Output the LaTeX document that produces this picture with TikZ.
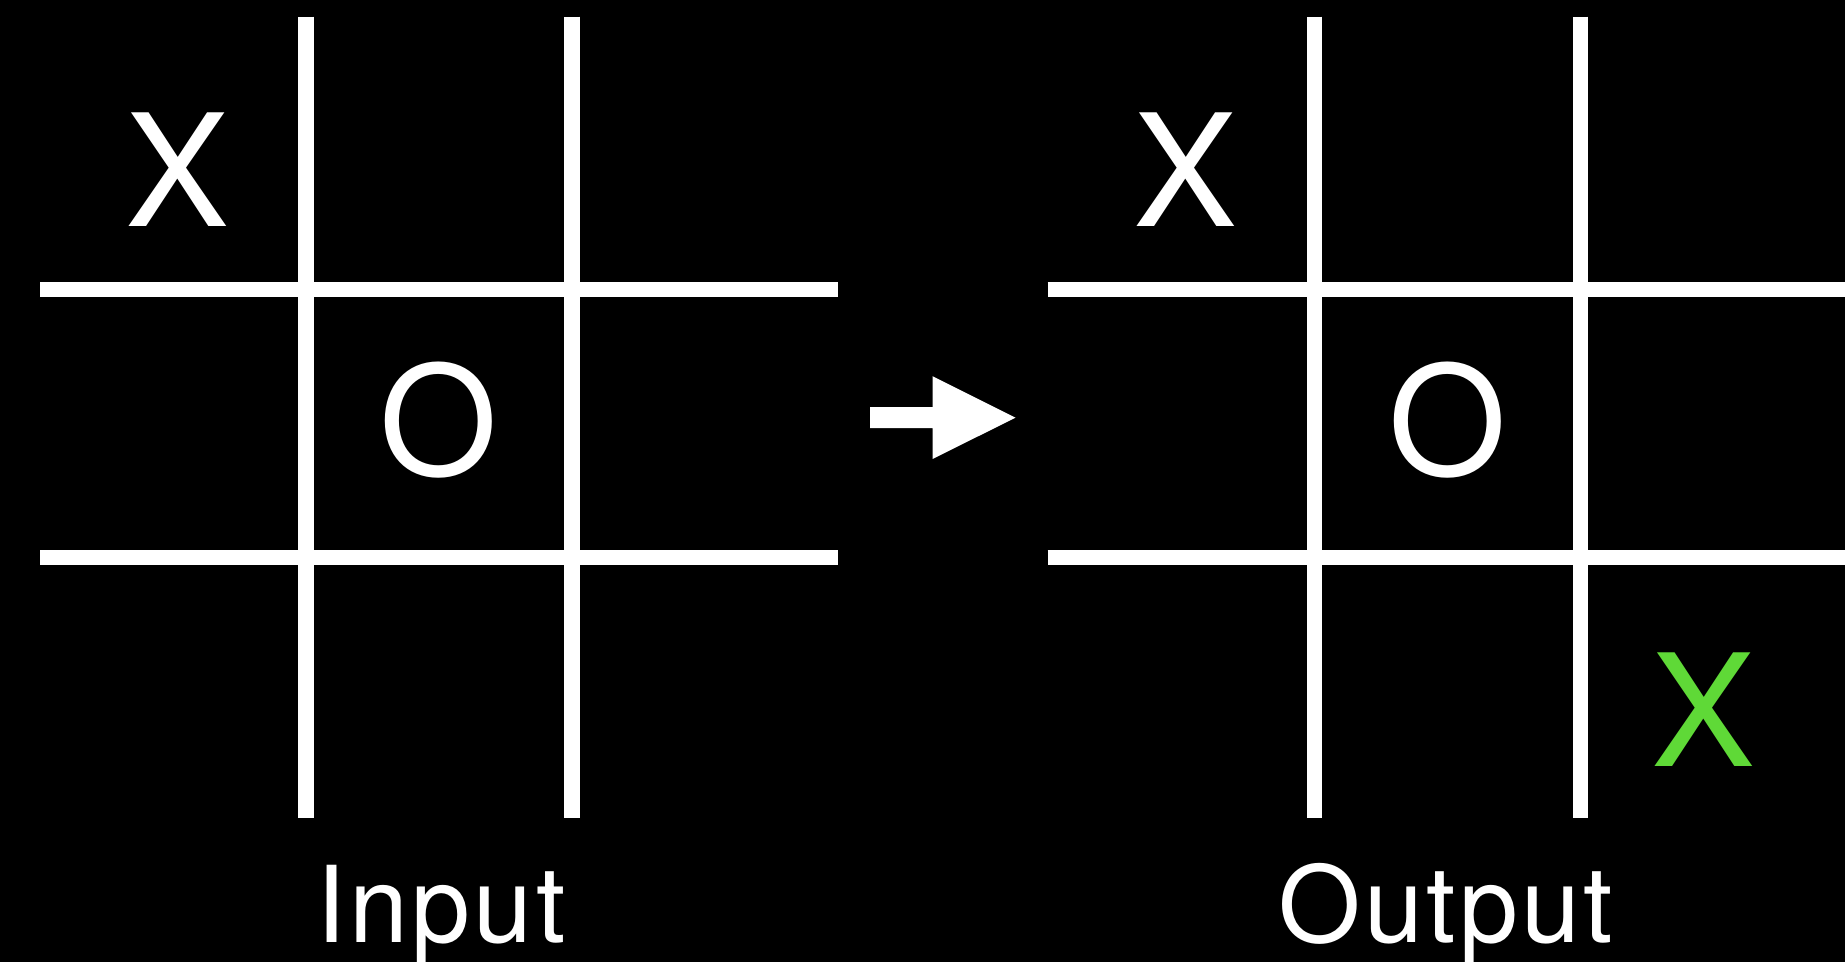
\documentclass[tikz,border=0pt]{standalone}
\usepackage{fontspec}
\setmainfont{TeX Gyre Heros}
\newfontfamily\capfont[LetterSpace=3]{TeX Gyre Heros}
\definecolor{movegreen}{RGB}{95,217,55}
\begin{document}
\begin{tikzpicture}[x=1pt,y=-1pt,
  gridline/.style={white,line width=15.5pt},
  piece/.style={text=white,inner sep=0pt,font=\fontsize{156}{160}\selectfont},
  opiece/.style={piece,font=\fontsize{152}{160}\selectfont},
  newpiece/.style={piece,text=movegreen},
  caption/.style={text=white,inner sep=0pt,anchor=base,font=\capfont\fontsize{106}{110}\selectfont}]
\fill[black] (0,0) rectangle (1845,962);
\useasboundingbox (0,0) rectangle (1845,962);
% left grid
\draw[gridline] (306,16.5) -- (306,818);
\draw[gridline] (572,16.5) -- (572,818);
\draw[gridline] (40,289.5) -- (838,289.5);
\draw[gridline] (40,557.5) -- (838,557.5);
% right grid
\draw[gridline] (1314.5,16.5) -- (1314.5,818);
\draw[gridline] (1580.5,16.5) -- (1580.5,818);
\draw[gridline] (1047.5,289.5) -- (1845,289.5);
\draw[gridline] (1047.5,557.5) -- (1845,557.5);
% pieces
\node[piece] (inX) at (177.7,169.5) {X};
\node[opiece] (inO) at (439,420) {O};
\node[piece] (outX) at (1186,169.5) {X};
\node[opiece] (outO) at (1447.3,420) {O};
\node[newpiece] (outNew) at (1703.3,710) {X};
% arrow
\coordinate (arrS) at (870,417.7);
\coordinate (arrT) at (1015.5,417.7);
\fill[white] (arrS) ++(0,-10.5) -- ++(62.5,0) -- ++(0,-31) -- (arrT) -- (932.5,459) -- ++(0,-30.8) -- ++(-62.5,0) -- cycle;
% captions
\node[caption] (inLbl) at (441,942.6) {Input};
\node[caption] (outLbl) at (1446,942.6) {Output};
\end{tikzpicture}
\end{document}
